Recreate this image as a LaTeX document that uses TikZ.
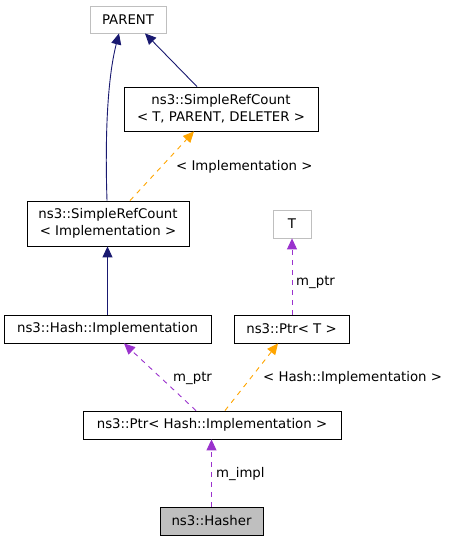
\documentclass[tikz,border=0pt]{standalone}
\usepackage{fontspec}
\setmainfont{DejaVu Sans}
\usetikzlibrary{arrows.meta}

\definecolor{azulherencia}{HTML}{191970}
\definecolor{morado}{HTML}{9A32CD}
\definecolor{naranja}{HTML}{FFA500}
\definecolor{grisborde}{HTML}{BFBFBF}

\begin{document}
\begin{tikzpicture}[
    x=1pt, y=-1pt,
    font=\fontsize{13.3}{17}\selectfont,
    clase/.style={draw=black, thick, inner sep=0pt, align=center},
    externa/.style={draw=grisborde, thick, inner sep=0pt},
    herencia/.style={-{Triangle[length=11pt,width=10pt]}, azulherencia, line width=0.9pt},
    uso/.style={-{Triangle[length=11pt,width=10pt]}, morado, line width=0.9pt, dash pattern=on 5pt off 5pt},
    plantilla/.style={-{Triangle[length=11pt,width=10pt]}, naranja, line width=0.9pt, dash pattern=on 5pt off 5pt},
    etiqueta/.style={anchor=west, inner sep=0pt}
]

\useasboundingbox (0,0) rectangle (449,541);

% Clases externas
\node[externa, minimum width=76pt, minimum height=27pt] (parent) at (128,19.5) {PARENT};
\node[externa, minimum width=38pt, minimum height=28pt] (t) at (292,224) {T};

% Plantillas SimpleRefCount
\node[clase, minimum width=194pt, minimum height=44pt] (srcgen) at (221,109) {ns3::SimpleRefCount\\< T, PARENT, DELETER >};
\node[clase, minimum width=162pt, minimum height=45pt] (srcimpl) at (108,223.5) {ns3::SimpleRefCount\\< Implementation >};

% Implementacion y punteros
\node[clase, minimum width=207pt, minimum height=28pt] (impl) at (107.5,329) {ns3::Hash::Implementation};
\node[clase, minimum width=115pt, minimum height=28pt] (ptrt) at (291.5,329) {ns3::Ptr< T >};
\node[clase, minimum width=258pt, minimum height=28pt] (ptrimpl) at (212,425) {ns3::Ptr< Hash::Implementation >};

% Clase documentada
\node[clase, fill=grisborde, minimum width=103pt, minimum height=28pt] (hasher) at (211.5,521) {ns3::Hasher};

% Herencia
\draw[herencia] (srcimpl.north -| 107,0) .. controls (105,140) and (107,80) .. (parent.south -| 119,0);
\draw[herencia] (srcgen.north -| 197,0) -- (parent.south -| 145,0);
\draw[herencia] (impl.north) -- (srcimpl.south -| impl.north);

% Instancias de plantilla
\draw[plantilla] (srcimpl.north -| 130,0) -- (srcgen.south -| 194,0);
\node[etiqueta] (lblsrc) at (176,167) {< Implementation >};
\draw[plantilla] (ptrimpl.north -| 225,0) -- (ptrt.south -| 278,0);
\node[etiqueta] (lblptr) at (263,378) {< Hash::Implementation >};

% Miembros
\draw[uso] (ptrt.north -| t.south) -- (t.south);
\node[etiqueta] (lblmptr) at (296,282) {m\_ptr};
\draw[uso] (ptrimpl.north -| 196,0) -- (impl.south -| 124,0);
\node[etiqueta] (lblmptrb) at (173,378) {m\_ptr};
\draw[uso] (hasher.north) -- (ptrimpl.south -| hasher.north);
\node[etiqueta] (lblimpl) at (216,474) {m\_impl};

\end{tikzpicture}
\end{document}
